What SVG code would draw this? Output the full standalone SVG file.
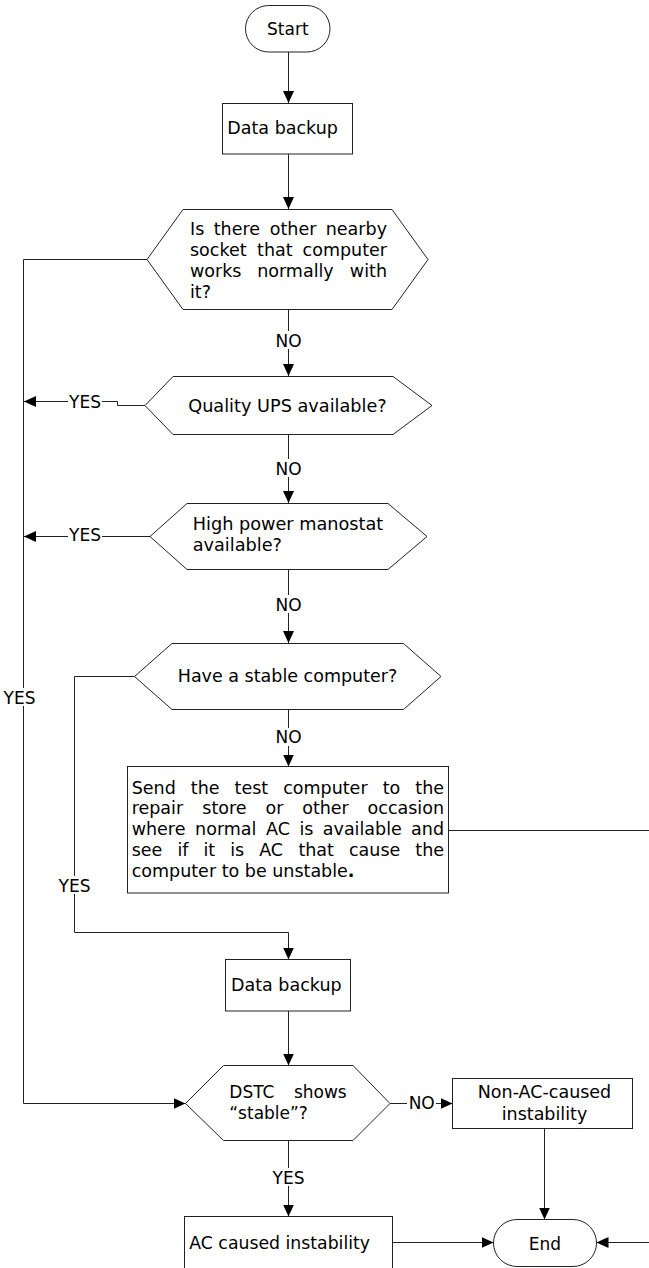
<svg xmlns="http://www.w3.org/2000/svg" width="649" height="1268" viewBox="0 0 649 1268">
<style>
.n{fill:#fff;stroke:#222;stroke-width:1}
.c{fill:none;stroke:#222;stroke-width:1}
.t{font-family:"DejaVu Sans",Verdana,"Liberation Sans",sans-serif;font-size:17.5px;fill:#000}
.m{text-anchor:middle}
.e{text-anchor:end}
.l{font-family:"DejaVu Sans",Verdana,"Liberation Sans",sans-serif;font-size:17px;fill:#000;text-anchor:middle}
.bg{fill:#fff;stroke:none}
</style>
<defs>
<marker id="ah" markerUnits="userSpaceOnUse" markerWidth="12" markerHeight="11" refX="12" refY="5.5" orient="auto">
<path d="M0,0 L12,5.5 L0,11 z" fill="#000"/>
</marker>
</defs>

<g id="connectors">
<path class="c" d="M288.5,52 V103" marker-end="url(#ah)"/>
<path class="c" d="M288.5,154 V209" marker-end="url(#ah)"/>
<path class="c" d="M288.5,310 V376" marker-end="url(#ah)"/>
<path class="c" d="M288.5,435 V503" marker-end="url(#ah)"/>
<path class="c" d="M288.5,570 V643" marker-end="url(#ah)"/>
<path class="c" d="M288.5,710 V766.5" marker-end="url(#ah)"/>
<path class="c" d="M147,259.5 H23.5 V1103.5 H185.5" marker-end="url(#ah)"/>
<path class="c" d="M145,405.5 H117.5 V401.5 H24" marker-end="url(#ah)"/>
<path class="c" d="M150,536.5 H24" marker-end="url(#ah)"/>
<path class="c" d="M134.5,676.5 H74.5 V932.5 H288.5 V959.5" marker-end="url(#ah)"/>
<path class="c" d="M448.5,830.5 H649"/>
<path class="c" d="M288.5,1011 V1065.5" marker-end="url(#ah)"/>
<path class="c" d="M390,1103.5 H452.5" marker-end="url(#ah)"/>
<path class="c" d="M288.5,1140.5 V1216.5" marker-end="url(#ah)"/>
<path class="c" d="M544.5,1128.5 V1219.5" marker-end="url(#ah)"/>
<path class="c" d="M392.5,1242.5 H493.5" marker-end="url(#ah)"/>
<path class="c" d="M649,1242.5 H596.5" marker-end="url(#ah)"/>
<!-- labels -->
<rect class="bg" x="274" y="331" width="29" height="18"/>
<text class="l" x="288.5" y="346.5">NO</text>
<rect class="bg" x="274" y="459" width="29" height="18"/>
<text class="l" x="288.5" y="474.5">NO</text>
<rect class="bg" x="274" y="595" width="29" height="18"/>
<text class="l" x="288.5" y="610.5">NO</text>
<rect class="bg" x="274" y="728" width="29" height="18"/>
<text class="l" x="288.5" y="743">NO</text>
<rect class="bg" x="3" y="688" width="33" height="18"/>
<text class="l" x="19.5" y="703.5">YES</text>
<rect class="bg" x="68" y="393" width="34" height="17"/>
<text class="l" x="85" y="407.5">YES</text>
<rect class="bg" x="68" y="528" width="34" height="17"/>
<text class="l" x="85" y="541">YES</text>
<rect class="bg" x="57" y="876" width="35" height="18"/>
<text class="l" x="74.5" y="891.5">YES</text>
<rect class="bg" x="407" y="1094" width="29" height="18"/>
<text class="l" x="421.7" y="1109">NO</text>
<rect class="bg" x="270" y="1168" width="37" height="18"/>
<text class="l" x="288.5" y="1183.5">YES</text>
</g>

<g id="start">
<rect class="n" x="245.5" y="5.5" width="84.5" height="46.5" rx="23.2"/>
<text class="t m" x="287.8" y="35" style="font-size:17px">Start</text>
</g>

<g id="backup1">
<rect class="n" x="222.5" y="103.5" width="130" height="50.5"/>
<text class="t" x="227.3" y="134.3">Data backup</text>
</g>

<g id="socket">
<polygon class="n" points="147,259.5 183,209.5 392,209.5 428,259.5 392,309.5 183,309.5"/>
<text class="t" y="235"><tspan x="190">Is</tspan><tspan x="213.7">there</tspan><tspan x="269.8">other</tspan></text>
<text class="t e" x="387" y="235">nearby</text>
<text class="t" y="256"><tspan x="190">socket</tspan><tspan x="257.1">that</tspan></text>
<text class="t e" x="387" y="256">computer</text>
<text class="t" y="277"><tspan x="190">works</tspan><tspan x="257.2">normally</tspan></text>
<text class="t e" x="387" y="277">with</text>
<text class="t" x="190" y="298">it?</text>
</g>

<g id="ups">
<polygon class="n" points="145,405.5 173,376.5 393,376.5 432,405.5 393,434.5 173,434.5"/>
<text class="t m" x="287.5" y="411.5" style="font-size:17.7px">Quality UPS available?</text>
</g>

<g id="manostat">
<polygon class="n" points="150,536.5 187,503.5 388,503.5 427,536.5 388,569.5 187,569.5"/>
<text class="t" x="192.7" y="530" style="font-size:17.7px">High power manostat</text>
<text class="t" x="192.7" y="550.5" style="font-size:17.7px">available?</text>
</g>

<g id="stable">
<polygon class="n" points="134.5,676.5 172,643.5 403.5,643.5 441,676.5 403.5,709.5 172,709.5"/>
<text class="t m" x="287.5" y="681.5">Have a stable computer?</text>
</g>

<g id="send">
<rect class="n" x="127.5" y="766.5" width="321" height="126.5"/>
<text class="t" y="793.5"><tspan x="131.7">Send</tspan><tspan x="190.8">the</tspan><tspan x="234.6">test</tspan><tspan x="283.2">computer</tspan><tspan x="382.7">to</tspan></text>
<text class="t e" x="444" y="793.5">the</text>
<text class="t" y="814.3"><tspan x="131.7">repair</tspan><tspan x="202.3">store</tspan><tspan x="265.6">or</tspan><tspan x="302.2">other</tspan></text>
<text class="t e" x="444" y="814.3">occasion</text>
<text class="t" y="835.1"><tspan x="131.7">where</tspan><tspan x="195.1">normal</tspan><tspan x="266">AC</tspan><tspan x="299.5">is</tspan><tspan x="322.8">available</tspan></text>
<text class="t e" x="444" y="835.1">and</text>
<text class="t" y="855.9"><tspan x="131.7">see</tspan><tspan x="177.4">if</tspan><tspan x="203.4">it</tspan><tspan x="230.2">is</tspan><tspan x="259.2">AC</tspan><tspan x="298.4">that</tspan><tspan x="349">cause</tspan></text>
<text class="t e" x="444" y="855.9">the</text>
<text class="t" x="131.7" y="876.7">computer to be unstable<tspan font-weight="bold">.</tspan></text>
</g>

<g id="backup2">
<rect class="n" x="225.5" y="959.5" width="125" height="51.5"/>
<text class="t" x="231" y="991">Data backup</text>
</g>

<g id="dstc">
<polygon class="n" points="185.5,1103.5 223.5,1065.5 353,1065.5 390,1103.5 353,1140.5 223.5,1140.5"/>
<text class="t" x="229.3" y="1097.5" style="font-size:17px">DSTC</text>
<text class="t e" x="346.7" y="1097.5" style="font-size:17px">shows</text>
<text class="t" x="229.3" y="1119.3" style="font-size:17px">“stable”?</text>
</g>

<g id="nonac">
<rect class="n" x="452.5" y="1078.5" width="180" height="50"/>
<text class="t m" x="544.5" y="1098.3">Non-AC-caused</text>
<text class="t m" x="544.5" y="1120">instability</text>
</g>

<g id="ac">
<rect class="n" x="184.5" y="1216.5" width="208" height="70"/>
<text class="t" x="189.3" y="1249.3" style="font-size:17.3px">AC caused instability</text>
</g>

<g id="end">
<rect class="n" x="493.5" y="1219.5" width="103" height="47" rx="23.5"/>
<text class="t m" x="545" y="1250" style="font-size:17px">End</text>
</g>
</svg>
